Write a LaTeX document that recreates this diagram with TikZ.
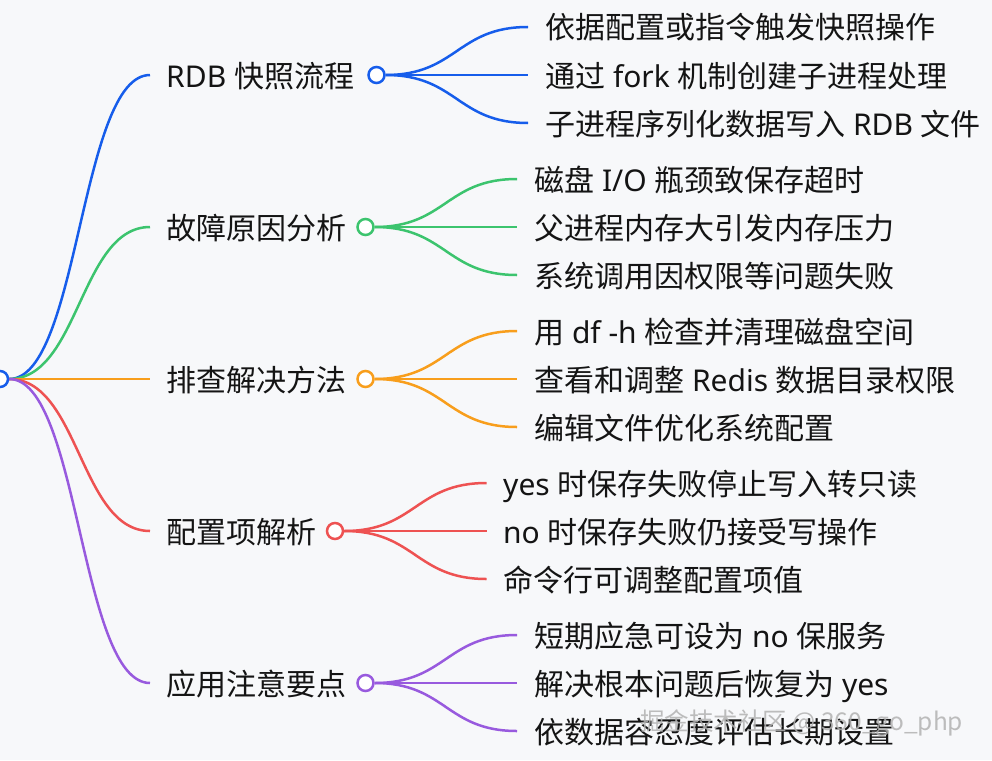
\documentclass[tikz,border=0pt]{standalone}
\usepackage{fontspec}
\setmainfont{Noto Sans CJK SC}
\newfontfamily\latinfont{Noto Sans}
\newcommand\E[1]{{\latinfont #1}}
\definecolor{bgc}{HTML}{F7F8FA}
\definecolor{cB}{RGB}{22,93,235}
\definecolor{cG}{RGB}{60,196,110}
\definecolor{cO}{RGB}{248,158,28}
\definecolor{cR}{RGB}{238,82,82}
\definecolor{cP}{RGB}{152,90,222}
\definecolor{ink}{HTML}{141414}
\pgfdeclarelayer{back}
\pgfdeclarelayer{links}
\pgfsetlayers{back,links,main}
\begin{document}
\begin{tikzpicture}[x=1pt,y=-1pt,
  txt/.style={anchor=base west, inner sep=0pt, font=\fontsize{30}{36}\selectfont, text=ink},
  dot/.style={circle, draw=#1, fill=white, line width=2.5pt, minimum size=16pt, inner sep=0pt},
  link/.style={draw=#1, line width=2.5pt},
  wmark/.style={anchor=base west, inner sep=0pt, font=\fontsize{24.5}{28}\selectfont, text=black!30, opacity=0.85}]
\useasboundingbox (0,0) rectangle (992,760);
\begin{pgfonlayer}{back}
\fill[bgc] (0,0) rectangle (992,760);
\end{pgfonlayer}
\clip (0,0) rectangle (992,760);

% root
\node[dot=cB] (root) at (0,379) {};

% ---------- branch 1 : blue
\coordinate (b1in) at (150,75);
\node[txt] (b1) at (166,87) {\E{RDB }快照流程};
\node[dot=cB] (c1) at (376.5,75) {};
\coordinate (l11) at (528,27);
\coordinate (l12) at (528,75);
\coordinate (l13) at (528,123);
\node[txt] (t11) at (545,39) {依据配置或指令触发快照操作};
\node[txt] (t12) at (545,87) {通过\E{ fork }机制创建子进程处理};
\node[txt] (t13) at (545,135) {子进程序列化数据写入\E{ RDB }文件};

% ---------- branch 2 : green
\coordinate (b2in) at (150,227);
\node[txt] (b2) at (166,239) {故障原因分析};
\node[dot=cG] (c2) at (365.5,227) {};
\coordinate (l21) at (517,179);
\coordinate (l22) at (517,227);
\coordinate (l23) at (517,275);
\node[txt] (t21) at (534,191) {磁盘\E{ I/O }瓶颈致保存超时};
\node[txt] (t22) at (534,239) {父进程内存大引发内存压力};
\node[txt] (t23) at (534,287) {系统调用因权限等问题失败};

% ---------- branch 3 : orange
\coordinate (b3in) at (150,379);
\node[txt] (b3) at (166,391) {排查解决方法};
\node[dot=cO] (c3) at (365.5,379) {};
\coordinate (l31) at (517,331);
\coordinate (l32) at (517,379);
\coordinate (l33) at (517,427);
\node[txt] (t31) at (534,343) {用\E{ df -h }检查并清理磁盘空间};
\node[txt] (t32) at (534,391) {查看和调整\E{ Redis }数据目录权限};
\node[txt] (t33) at (534,439) {编辑文件优化系统配置};

% ---------- branch 4 : red
\coordinate (b4in) at (150,531);
\node[txt] (b4) at (166,543) {配置项解析};
\node[dot=cR] (c4) at (335,531) {};
\coordinate (l41) at (486.5,483);
\coordinate (l42) at (486.5,531);
\coordinate (l43) at (486.5,579);
\node[txt] (t41) at (503,495) {\E{yes }时保存失败停止写入转只读};
\node[txt] (t42) at (503,543) {\E{no }时保存失败仍接受写操作};
\node[txt] (t43) at (503,591) {命令行可调整配置项值};

% ---------- branch 5 : purple
\coordinate (b5in) at (150,683);
\node[txt] (b5) at (166,695) {应用注意要点};
\node[dot=cP] (c5) at (365.5,683) {};
\coordinate (l51) at (517,635);
\coordinate (l52) at (517,683);
\coordinate (l53) at (517,731);
\node[txt] (t51) at (534,647) {短期应急可设为\E{ no }保服务};
\node[txt] (t52) at (534,695) {解决根本问题后恢复为\E{ yes}};
\node[txt] (t53) at (534,743) {依数据容忍度评估长期设置};

% ---------- connectors
\begin{pgfonlayer}{links}
\draw[link=cB] (root.east) .. controls +(70,0) and +(-70,0) .. (b1in);
\draw[link=cG] (root.east) .. controls +(70,0) and +(-70,0) .. (b2in);
\draw[link=cO] (root.east) -- (b3in);
\draw[link=cR] (root.east) .. controls +(70,0) and +(-70,0) .. (b4in);
\draw[link=cP] (root.east) .. controls +(70,0) and +(-70,0) .. (b5in);

\foreach \l in {l11,l12,l13} \draw[link=cB] (c1.east) .. controls +(71,0) and +(-71,0) .. (\l);
\foreach \l in {l21,l22,l23} \draw[link=cG] (c2.east) .. controls +(71,0) and +(-71,0) .. (\l);
\foreach \l in {l31,l32,l33} \draw[link=cO] (c3.east) .. controls +(71,0) and +(-71,0) .. (\l);
\foreach \l in {l41,l42,l43} \draw[link=cR] (c4.east) .. controls +(71,0) and +(-71,0) .. (\l);
\foreach \l in {l51,l52,l53} \draw[link=cP] (c5.east) .. controls +(71,0) and +(-71,0) .. (\l);
\end{pgfonlayer}

% watermark
\node[wmark] (wm) at (640,730) {掘金技术社区 @ 360\_go\_php};
\end{tikzpicture}
\end{document}
